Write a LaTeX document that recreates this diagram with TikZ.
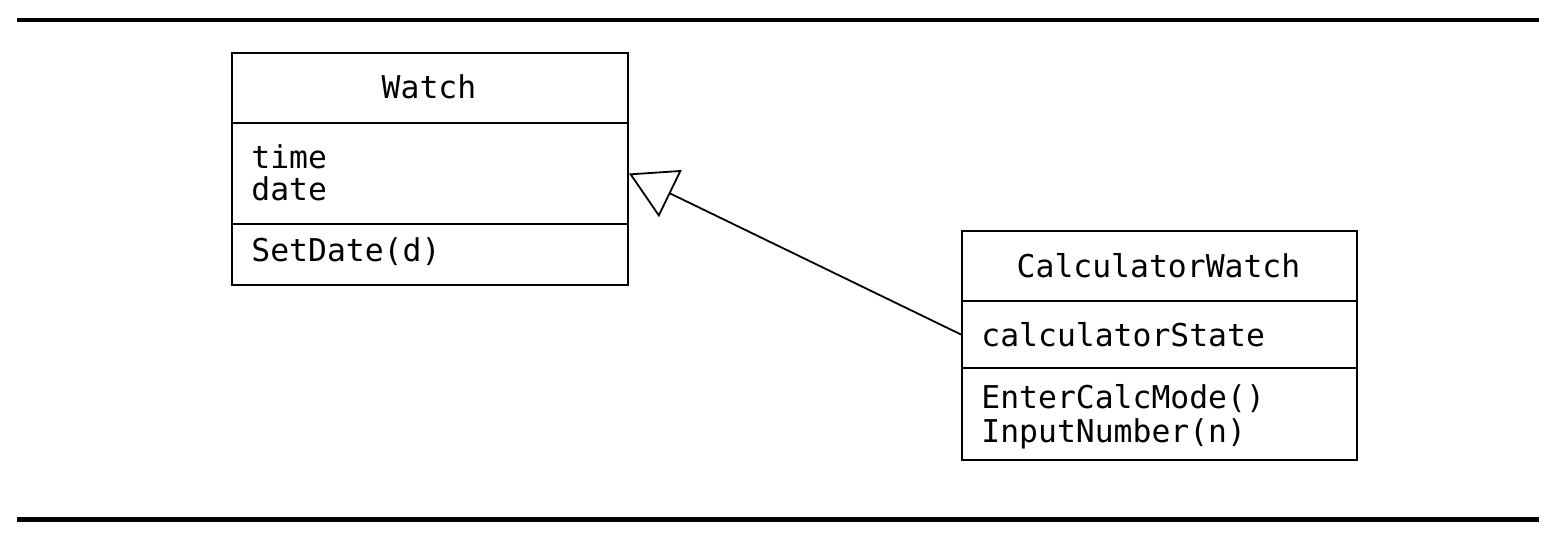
\documentclass[tikz,border=0pt]{standalone}
\usepackage{fontspec}
\setmonofont{DejaVu Sans Mono}
\usetikzlibrary{arrows.meta}

\newcommand{\umlfont}{\ttfamily\fontsize{15.7}{16}\selectfont}
\tikzset{
  part/.style={draw, line width=1pt, rectangle, anchor=north west, inner sep=0pt},
  member/.style={anchor=base west, inner sep=0pt, font=\umlfont},
  classname/.style={anchor=base, inner sep=0pt, font=\umlfont},
  rule/.style={line width=2.2pt},
  inherit/.style={line width=0.9pt, -{Triangle[open, length=23pt, width=26pt, line width=0.9pt]}},
}

\begin{document}
\begin{tikzpicture}[x=0.5pt,y=0.5pt,yscale=-1,xscale=1]
\useasboundingbox (0,0) rectangle (1560,538);

%Straight Lines: top and bottom rules
\draw[rule] (17,20) -- (1539,20);
\draw[rule] (17,519.5) -- (1539,519.5);

%Shape: Rectangle, class Watch
\node[part, minimum width=198pt, minimum height=35pt] (wname) at (231,52) {};
\node[part, minimum width=198pt, minimum height=50.5pt] (wattr) at (231,122) {};
\node[part, minimum width=198pt, minimum height=30.5pt] (wop) at (231,223) {};

%Shape: Rectangle, class CalculatorWatch
\node[part, minimum width=197.5pt, minimum height=35pt] (cname) at (961,230) {};
\node[part, minimum width=197.5pt, minimum height=33.5pt] (cattr) at (961,300) {};
\node[part, minimum width=197.5pt, minimum height=46pt] (cop) at (961,367) {};

% Text Node
\node[classname] (wtitle) at (429,98) {Watch};
% Text Node
\node[member] (wtime) at (251,168) {time};
% Text Node
\node[member] (wdate) at (251,200) {date};
% Text Node
\node[member] (wsetdate) at (251,261) {SetDate(d)};

% Text Node
\node[classname] (ctitle) at (1158.5,277) {CalculatorWatch};
% Text Node
\node[member] (cstate) at (981,346) {calculatorState};
% Text Node
\node[member] (center) at (981,408) {EnterCalcMode()};
% Text Node
\node[member] (cinput) at (981,442) {InputNumber(n)};

%Straight Lines: generalization
\draw[inherit] (cattr.west) -- (wattr.east);

\end{tikzpicture}
\end{document}
